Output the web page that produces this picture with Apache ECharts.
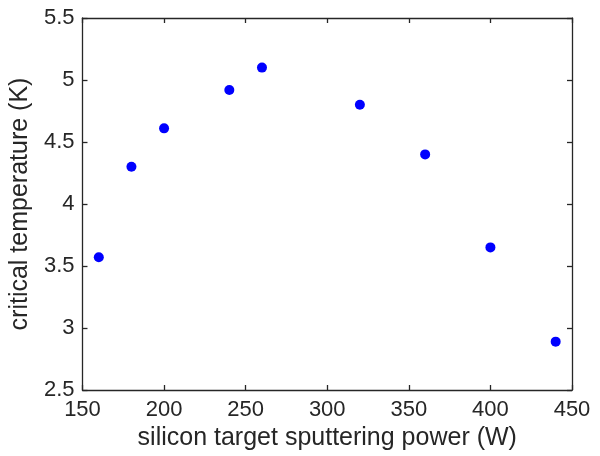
<!DOCTYPE html>
<html><head><meta charset="utf-8">
<script src="https://cdn.jsdelivr.net/npm/echarts@6/dist/echarts.min.js"></script>
<style>html,body{margin:0;padding:0;background:#fff}#c{width:600px;height:456px}</style>
</head><body><div id="c"></div>
<script>
const power = [160, 180, 200, 240, 260, 320, 360, 400, 440];
const tc = [3.57, 4.30, 4.61, 4.92, 5.10, 4.80, 4.40, 3.65, 2.89];
const xLabel = 'silicon target sputtering power (W)';
const yLabel = 'critical temperature (K)';

const ink = '#262626';
const font = 'Liberation Sans, Arial, Helvetica, sans-serif';
const chart = echarts.init(document.getElementById('c'));
const axisCommon = {
  axisLine: {show: true, onZero: false, lineStyle: {color: ink, width: 1.3}},
  axisTick: {show: true, inside: true, length: 5, lineStyle: {color: ink, width: 1.3}},
  splitLine: {show: false}
};
chart.setOption({
  animation: false,
  grid: {left: 82, right: 28, top: 18, bottom: 64, containLabel: false},
  xAxis: [
    Object.assign({type: 'value', min: 150, max: 450, interval: 50, position: 'bottom',
      name: xLabel, nameLocation: 'middle', nameGap: 36,
      nameTextStyle: {color: ink, fontSize: 25, fontFamily: font},
      axisLabel: {color: ink, fontSize: 22, fontFamily: font, margin: 9}}, axisCommon),
    Object.assign({type: 'value', min: 150, max: 450, interval: 50, position: 'top',
      axisLabel: {show: false}}, axisCommon)
  ],
  yAxis: [
    Object.assign({type: 'value', min: 2.5, max: 5.5, interval: 0.5, position: 'left',
      name: yLabel, nameLocation: 'middle', nameGap: 45,
      nameTextStyle: {color: ink, fontSize: 25, fontFamily: font},
      axisLabel: {color: ink, fontSize: 22, fontFamily: font, margin: 8}}, axisCommon),
    Object.assign({type: 'value', min: 2.5, max: 5.5, interval: 0.5, position: 'right',
      axisLabel: {show: false}}, axisCommon)
  ],
  series: [{
    type: 'scatter',
    data: power.map((p, i) => [p, tc[i]]),
    symbol: 'circle', symbolSize: 10,
    itemStyle: {color: '#0000ff', opacity: 1}
  }]
});
</script></body></html>
